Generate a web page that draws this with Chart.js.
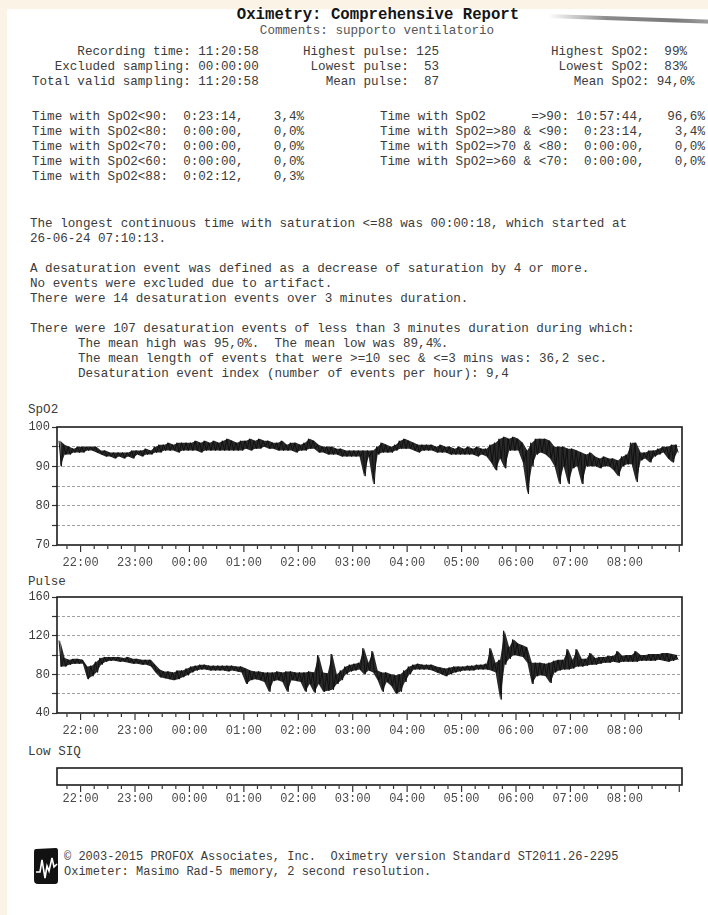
<!DOCTYPE html>
<html>
<head>
<meta charset="utf-8">
<script src="https://cdn.jsdelivr.net/npm/chart.js@4.4.1/dist/chart.umd.min.js"></script>
<style>
  html, body { margin: 0; padding: 0; }
  body {
    width: 708px; height: 915px; position: relative; overflow: hidden;
    background: #fbf3e6;
    font-family: "Liberation Mono", "DejaVu Sans Mono", monospace;
    color: #3b3b3b;
  }
  #page { position: absolute; left: 7px; top: 9px; right: 0; bottom: 0; background: #fff; }
  .t { position: absolute; white-space: pre; font-size: 12.6px; line-height: 15px; }
  canvas { position: absolute; left: 0; }
  #smudge {
    position: absolute; left: 548px; top: 17px; width: 170px; height: 4px; border-radius: 2px;
    background: linear-gradient(to right, rgba(160,160,160,0), #8a8a8a 35%, #7a7a7a 75%, #a8a8a8);
    transform: rotate(2deg); filter: blur(0.6px);
  }
</style>
</head>
<body>
<div id="page"></div>
<div id="smudge"></div>

<div class="t" style="left:0;width:756px;top:7px;text-align:center;font-size:15.7px;line-height:16px;font-weight:bold;color:#151515">Oximetry: Comprehensive Report</div>
<div class="t" style="left:0;width:754px;top:24px;text-align:center;color:#555">Comments: supporto ventilatorio</div>

<div class="t" style="left:32px;top:45px">      Recording time: 11:20:58
   Excluded sampling: 00:00:00
Total valid sampling: 11:20:58</div>
<div class="t" style="left:303px;top:45px">Highest pulse: 125
 Lowest pulse:  53
   Mean pulse:  87</div>
<div class="t" style="left:551px;top:45px">Highest SpO2:  99%
 Lowest SpO2:  83%
   Mean SpO2: 94,0%</div>

<div class="t" style="left:32px;top:110px">Time with SpO2&lt;90:  0:23:14,    3,4%
Time with SpO2&lt;80:  0:00:00,    0,0%
Time with SpO2&lt;70:  0:00:00,    0,0%
Time with SpO2&lt;60:  0:00:00,    0,0%
Time with SpO2&lt;88:  0:02:12,    0,3%</div>
<div class="t" style="left:380px;top:110px">Time with SpO2      =&gt;90: 10:57:44,   96,6%
Time with SpO2=&gt;80 &amp; &lt;90:  0:23:14,    3,4%
Time with SpO2=&gt;70 &amp; &lt;80:  0:00:00,    0,0%
Time with SpO2=&gt;60 &amp; &lt;70:  0:00:00,    0,0%</div>

<div class="t" style="left:30px;top:217px">The longest continuous time with saturation &lt;=88 was 00:00:18, which started at
26-06-24 07:10:13.</div>
<div class="t" style="left:30px;top:262px">A desaturation event was defined as a decrease of saturation by 4 or more.
No events were excluded due to artifact.
There were 14 desaturation events over 3 minutes duration.</div>
<div class="t" style="left:30px;top:322px">There were 107 desaturation events of less than 3 minutes duration during which:</div>
<div class="t" style="left:78px;top:337px">The mean high was 95,0%.  The mean low was 89,4%.
The mean length of events that were &gt;=10 sec &amp; &lt;=3 mins was: 36,2 sec.
Desaturation event index (number of events per hour): 9,4</div>

<div class="t" style="left:28px;top:403px">SpO2</div>
<div class="t" style="left:28px;top:575px">Pulse</div>
<div class="t" style="left:28px;top:745px">Low SIQ</div>

<canvas id="spo2Canvas" width="708" height="160" style="top:415px"></canvas>
<canvas id="pulseCanvas" width="708" height="158" style="top:585px"></canvas>
<canvas id="siqCanvas" width="708" height="50" style="top:760px"></canvas>

<svg style="position:absolute;left:33px;top:847px" width="26" height="38" viewBox="0 0 26 38">
  <path d="M3 2 L23 1 Q25 1 25 4 L25 34 Q25 37 22 37 L5 37 Q1 37 1 33 L1 5 Q1 2 3 2 Z" fill="#121212"/>
  <polyline points="3,25 7,25 9,13 12,31 14,19 16,24 19,11 21,20 24,17" fill="none" stroke="#fff" stroke-width="1.6"/>
</svg>
<div class="t" style="left:64px;top:850px;font-size:12px">© 2003-2015 PROFOX Associates, Inc.  Oximetry version Standard ST2011.26-2295
Oximeter: Masimo Rad-5 memory, 2 second resolution.</div>

<script>
// time axis: hours, values after midnight continue as 24, 25, ...
const timeTicks = ["22:00", "23:00", "00:00", "01:00", "02:00", "03:00", "04:00", "05:00", "06:00", "07:00", "08:00"];
const spo2Ticks = [100, 90, 80, 70];
const pulseTicks = [160, 120, 80, 40];

// 5-minute bins starting 21:35, high and low of the trace in each bin
const spo2High = [
  96.5, 95.5, 95, 94.5, 95,
  95, 95, 95, 95, 94, 94, 93.5, 93.5, 93.5, 93.5, 93.5, 94,
  94, 94, 94.5, 94, 95, 95.5, 95.5, 96, 95.5, 96, 96, 96,
  96, 96.5, 96, 96.5, 96, 96.5, 96, 96.5, 97, 96.5, 96, 96.5,
  96.5, 97, 96.5, 97, 96.5, 96.5, 96, 96, 96.5, 95.5, 96, 96,
  95.5, 96, 97, 96.5, 95.5, 95, 95, 95, 94.5, 94.5, 94, 94,
  94, 94, 94, 94, 94, 95, 96, 95.5, 95, 95.5, 96.5, 97,
  96.5, 96, 95.5, 95.5, 95.5, 95.5, 95, 95.5, 95, 95, 94.5, 95,
  94.5, 95, 94.5, 95, 94.5, 94.5, 95.5, 96, 97, 97.5, 97, 97.5,
  97, 96, 94, 96, 97, 97, 97, 96.5, 95, 95, 95, 94.5,
  94.5, 94, 93.5, 93, 93.5, 92.5, 92, 92.5, 92, 92, 91.5, 92.5,
  93, 96, 96, 93.5, 93.5, 94, 94, 94.5, 95, 95, 95.5, 95.5,
];
const spo2Low = [
  90, 93, 93, 93.5, 93.5,
  93.5, 94, 94, 93.5, 93, 92.5, 92.5, 92, 92.5, 92, 92.5, 92,
  93, 92.5, 93, 93, 93.5, 93.5, 94, 94, 94, 93.5, 94, 94,
  94, 94, 93.5, 94, 94, 94, 94, 94, 94, 94, 94, 94,
  94.5, 94, 94.5, 94.5, 95, 94.5, 94.5, 94, 94, 94, 94, 93.5,
  94, 94, 94.5, 94.5, 93.5, 93.5, 93, 93, 93, 92.5, 92.5, 92.5,
  92.5, 92.5, 87.5, 92.5, 85.5, 93, 93.5, 93.5, 93.5, 94, 94.5, 94.5,
  94.5, 94, 93.5, 94, 94, 94, 93.5, 93.5, 93.5, 93, 93, 93,
  93, 93, 93, 92.5, 93, 92.5, 91, 89, 92, 89.5, 94, 94,
  94, 91, 83, 90, 93, 93.5, 93, 92, 90, 85.5, 90, 85.5,
  89.5, 90, 85.5, 90, 90, 90, 89.5, 90, 90, 89, 87.5, 90,
  90.5, 90.5, 86, 91.5, 92, 91, 92.5, 93, 93.5, 92, 91, 93.5,
];
const pulseHigh = [
  115, 97, 95, 96, 96,
  95, 88, 89, 93, 97, 98, 98, 98, 98, 97, 98, 96,
  96, 95, 95, 95, 90, 85, 83, 83, 82, 84, 84, 86,
  88, 89, 90, 90, 89, 89, 89, 89, 89, 89, 88, 88,
  86, 84, 83, 83, 82, 82, 82, 83, 82, 83, 83, 82,
  82, 82, 83, 82, 100, 82, 81, 101, 80, 84, 88, 90,
  91, 92, 107, 92, 104, 84, 82, 82, 80, 79, 80, 84,
  88, 90, 91, 90, 90, 90, 88, 87, 86, 87, 88, 88,
  88, 89, 89, 90, 90, 91, 107, 92, 95, 125, 108, 116,
  112, 110, 108, 92, 92, 92, 91, 92, 94, 95, 95, 106,
  95, 106, 96, 96, 102, 97, 98, 98, 99, 99, 104, 99,
  100, 100, 104, 100, 100, 101, 101, 101, 102, 102, 101, 100,
];
const pulseLow = [
  88, 88, 90, 91, 91,
  91, 75, 78, 82, 90, 93, 94, 94, 93, 93, 92, 91,
  91, 90, 90, 88, 82, 77, 76, 75, 74, 75, 77, 79,
  82, 84, 85, 85, 84, 84, 84, 84, 83, 84, 83, 82,
  70, 74, 75, 74, 72, 62, 73, 74, 72, 62, 74, 73,
  72, 62, 70, 61, 70, 62, 63, 64, 70, 74, 80, 83,
  84, 85, 80, 84, 82, 74, 62, 72, 68, 60, 62, 72,
  80, 85, 85, 85, 85, 84, 82, 80, 78, 80, 82, 83,
  84, 84, 84, 85, 85, 85, 84, 82, 54, 90, 96, 100,
  99, 98, 92, 70, 78, 79, 78, 71, 82, 84, 85, 85,
  86, 88, 88, 89, 90, 90, 91, 92, 92, 93, 92, 93,
  93, 93, 93, 94, 94, 94, 94, 95, 94, 93, 94, 95,
];

const binStart = 21 + 35 / 60;
const axisStart = 21 + 34 / 60;
const axisEnd = 33 + 3 / 60;
const mono = "'Liberation Mono', 'DejaVu Sans Mono', monospace";

Chart.defaults.font.family = mono;
Chart.defaults.font.size = 12;
Chart.defaults.color = "#444";

// one point per bin, at its middle
function toPoints(values) {
  return values.map((v, i) => ({ x: binStart + (i * 5 + 2.5) / 60, y: v }));
}

// high and low of each bin one after the other, gives the noisy look of the trace
function toZigzag(high, low) {
  const pts = [];
  high.forEach((h, i) => {
    const t = binStart + (i * 5) / 60;
    pts.push({ x: t + 1.25 / 60, y: h });
    pts.push({ x: t + 3.75 / 60, y: low[i] });
  });
  return pts;
}

// box round the plot + quarter-hour tick marks under it
const framePlugin = {
  id: "frame",
  afterDraw(chart) {
    const { ctx, chartArea: a } = chart;
    const xs = chart.scales.x;
    ctx.save();
    ctx.strokeStyle = "#1c1c1c";
    ctx.lineWidth = 1.6;
    ctx.strokeRect(a.left, a.top, a.right - a.left, a.bottom - a.top);
    ctx.lineWidth = 1.2;
    ctx.strokeStyle = "#333";
    for (let q = 87; q <= 132; q++) {
      const x = xs.getPixelForValue(q / 4);
      const len = q % 4 === 0 ? 6 : 3;
      ctx.beginPath();
      ctx.moveTo(x, a.bottom + 1);
      ctx.lineTo(x, a.bottom + 1 + len);
      ctx.stroke();
    }
    ctx.restore();
  },
};

function timeAxis(height, padding) {
  return {
    type: "linear",
    min: axisStart,
    max: axisEnd,
    grid: { display: false, drawTicks: false },
    border: { display: false },
    afterBuildTicks: (axis) => {
      axis.ticks = timeTicks.map((_, i) => ({ value: 22 + i }));
    },
    ticks: {
      autoSkip: false,
      maxRotation: 0,
      padding: padding,
      color: "#4a4a4a",
      callback: (v) => timeTicks[Math.round(v) - 22] || "",
    },
    afterFit: (axis) => {
      axis.height = height;
    },
  };
}

function valueAxis(min, max, step, labels) {
  return {
    min: min,
    max: max,
    afterBuildTicks: (axis) => {
      const t = [];
      for (let v = max; v >= min; v -= step) t.push({ value: v });
      axis.ticks = t;
    },
    ticks: {
      padding: 2,
      color: "#3a3a3a",
      callback: (v) => (labels.includes(v) ? String(v) : ""),
    },
    grid: {
      color: (c) => (c.tick && (c.tick.value === min || c.tick.value === max) ? "rgba(0,0,0,0)" : "#a0a0a0"),
      lineWidth: 1,
      drawTicks: true,
      tickLength: 5,
      tickColor: "#333",
      tickWidth: 1.2,
    },
    border: { display: false, dash: [3, 2] },
    afterFit: (axis) => {
      axis.width = 57;
    },
  };
}

// trace: dark band between high and low envelope, with the zigzag on top
function traceChart(id, high, low, yAxis) {
  return new Chart(document.getElementById(id), {
    type: "line",
    data: {
      datasets: [
        {
          data: toZigzag(high, low),
          borderColor: "#101010",
          borderWidth: 1,
          pointRadius: 0,
          tension: 0,
          fill: false,
        },
        {
          data: toPoints(high),
          borderColor: "rgba(0,0,0,0)",
          backgroundColor: "#2a2a2a",
          borderWidth: 0,
          pointRadius: 0,
          tension: 0,
          fill: "+1",
        },
        {
          data: toPoints(low),
          borderColor: "rgba(0,0,0,0)",
          borderWidth: 0,
          pointRadius: 0,
          tension: 0,
          fill: false,
        },
      ],
    },
    options: {
      responsive: false,
      animation: false,
      layout: { padding: { top: 12, right: 26, bottom: 0, left: 0 } },
      plugins: { legend: { display: false }, tooltip: { enabled: false } },
      scales: { x: timeAxis(30, 11), y: yAxis },
    },
    plugins: [framePlugin],
  });
}

traceChart("spo2Canvas", spo2High, spo2Low, valueAxis(70, 100, 5, spo2Ticks));
traceChart("pulseCanvas", pulseHigh, pulseLow, valueAxis(40, 160, 20, pulseTicks));

new Chart(document.getElementById("siqCanvas"), {
  type: "line",
  data: { datasets: [] },
  options: {
    responsive: false,
    animation: false,
    layout: { padding: { top: 8, right: 26, bottom: 0, left: 57 } },
    plugins: { legend: { display: false }, tooltip: { enabled: false } },
    scales: { x: timeAxis(25, 7), y: { display: false, min: 0, max: 1 } },
  },
  plugins: [framePlugin],
});
</script>
</body>
</html>
